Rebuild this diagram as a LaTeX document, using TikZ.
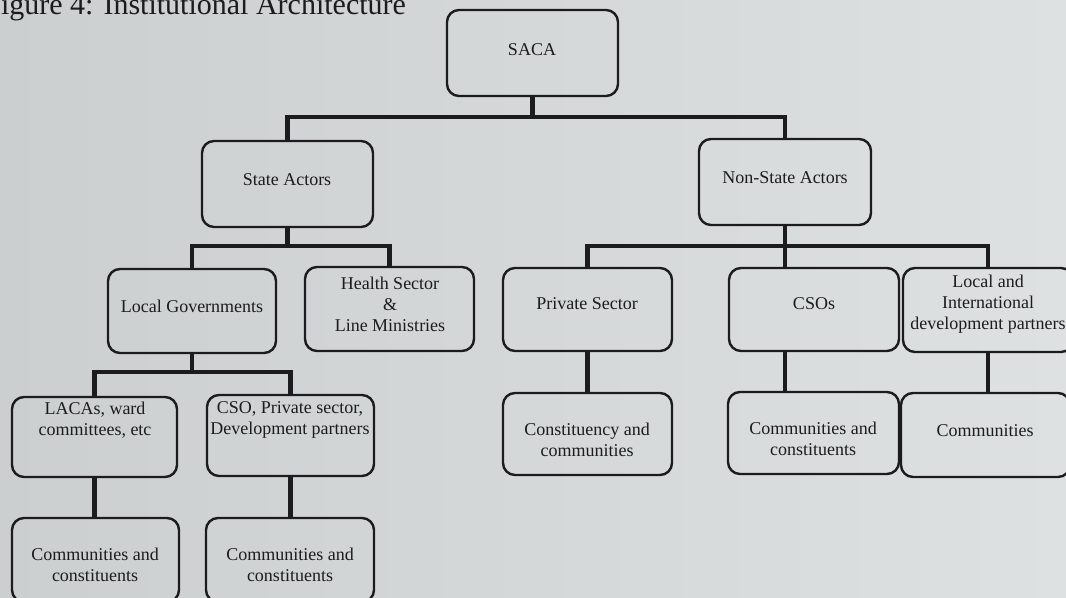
\documentclass[tikz,border=0pt]{standalone}
\usepackage{fontspec}
\setmainfont{Liberation Serif}
\definecolor{ink}{RGB}{28,28,30}
\definecolor{bgl}{RGB}{203,207,208}
\definecolor{bgr}{RGB}{222,225,225}
\tikzset{
  box/.style={draw=ink, line width=1.2pt, rounded corners=6pt, inner sep=0pt},
  txt/.style={text=ink, align=center, font=\fontsize{9}{10.5}\selectfont, inner sep=0pt},
  conn/.style={draw=ink, line width=2.3pt, line cap=rect}
}
\begin{document}
\begin{tikzpicture}[x=0.5pt,y=-0.5pt]
\clip (0,0) rectangle (1066,598);
\shade[left color=bgl, right color=bgr] (0,0) rectangle (1066,598);

% caption (cut off at the top edge, as in the photograph)
\node[anchor=base west, text=ink, inner sep=0pt, font=\fontsize{15}{17}\selectfont] (cap) at (-16,15) {Figure 4: Institutional Architecture};

% boxes
\node[box, minimum width=85.5pt, minimum height=43pt] (saca) at (532.5,53) {};
\node[box, minimum width=85.5pt, minimum height=43pt] (state) at (287.5,184) {};
\node[box, minimum width=86pt, minimum height=43pt] (nonstate) at (785,182) {};
\node[box, minimum width=84pt, minimum height=42pt] (localgov) at (192,311) {};
\node[box, minimum width=84.5pt, minimum height=42pt] (health) at (389.5,309) {};
\node[box, minimum width=84.5pt, minimum height=41.5pt] (private) at (587.5,309.5) {};
\node[box, minimum width=85pt, minimum height=41.5pt] (csos) at (814,309.5) {};
\node[box, minimum width=85pt, minimum height=42pt] (intl) at (988,310) {};
\node[box, minimum width=84.5pt, minimum height=41pt] (constit) at (587.5,434) {};
\node[box, minimum width=85.5pt, minimum height=41pt] (commcsos) at (813.5,433) {};
\node[box, minimum width=84.5pt, minimum height=42pt] (commintl) at (985.5,435) {};
\node[box, minimum width=82.5pt, minimum height=40pt] (lacas) at (94.5,437) {};
\node[box, minimum width=83.5pt, minimum height=40.5pt] (csop) at (290.5,435.5) {};
\node[box, minimum width=83.5pt, minimum height=42pt] (commlacas) at (95.5,560) {};
\node[box, minimum width=84pt, minimum height=42pt] (commcsop) at (290,560) {};

% texts
\node[txt] (saca-t) at (532,50) {SACA};
\node[txt] (state-t) at (287,180) {State Actors};
\node[txt] (nonstate-t) at (785,178) {Non-State Actors};
\node[txt] (localgov-t) at (192,306) {Local Governments};
\node[txt] (health-t) at (390,304) {Health Sector\\\&\\Line Ministries};
\node[txt] (private-t) at (587,304) {Private Sector};
\node[txt] (csos-t) at (814,304) {CSOs};
\node[txt] (intl-t) at (988,304) {Local and\\International\\development partners};
\node[txt] (constit-t) at (587,440) {Constituency and\\communities};
\node[txt] (commcsos-t) at (813,439) {Communities and\\constituents};
\node[txt] (commintl-t) at (985,431) {Communities};
\node[txt] (lacas-t) at (95,420) {LACAs, ward\\committees, etc};
\node[txt] (csop-t) at (290,420) {CSO, Private sector,\\Development partners};
\node[txt] (commlacas-t) at (95,565) {Communities and\\constituents};
\node[txt] (commcsop-t) at (290,565) {Communities and\\constituents};

% bus levels
\coordinate (b1) at (0,117);
\coordinate (b2) at (0,246);
\coordinate (b3) at (0,372);

% connectors
\draw[conn] (saca.south) -- (saca.south |- b1) -| (state.north);
\draw[conn] (saca.south |- b1) -| (nonstate.north);

\draw[conn] (state.south) -- (state.south |- b2) -| (localgov.north);
\draw[conn] (state.south |- b2) -| (health.north);

\draw[conn] (nonstate.south) -- (nonstate.south |- csos.north);
\draw[conn] (nonstate.south |- b2) -| (private.north);
\draw[conn] (nonstate.south |- b2) -| (intl.north);

\draw[conn] (localgov.south) -- (localgov.south |- b3) -| (lacas.north);
\draw[conn] (localgov.south |- b3) -| (csop.north);

\draw[conn] (private.south) -- (constit.north);
\draw[conn] (nonstate.south |- csos.south) -- (nonstate.south |- commcsos.north);
\draw[conn] (intl.south) -- (intl.south |- commintl.north);
\draw[conn] (lacas.south) -- (lacas.south |- commlacas.north);
\draw[conn] (csop.south) -- (csop.south |- commcsop.north);
\end{tikzpicture}
\end{document}
